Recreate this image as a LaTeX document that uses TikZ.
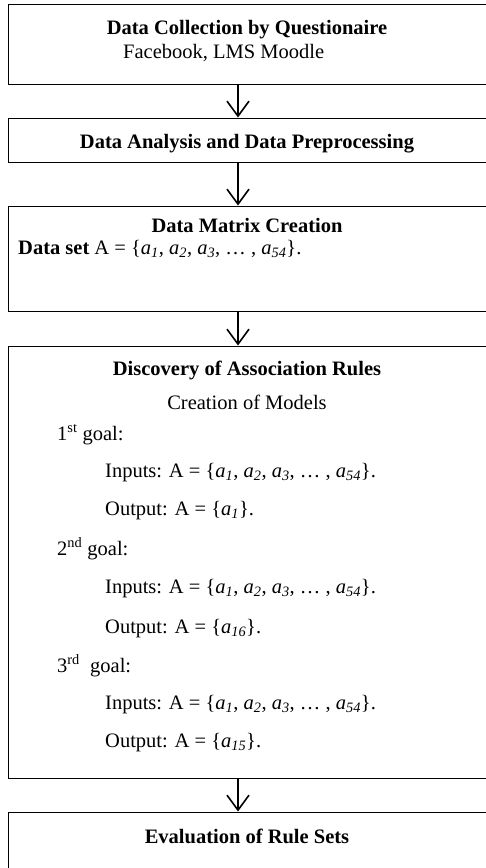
\documentclass[tikz,border=0pt]{standalone}
\usepackage{fontspec}
\setmainfont{Liberation Serif}
\usetikzlibrary{arrows.meta}
\newcommand\ai[1]{\textit{a\textsubscript{#1}}}
\newcommand\allset{A = \{\ai{1}, \ai{2}, \ai{3}, \ldots{} , \ai{54}\}.}
\tikzset{
  box/.style={draw=black, line width=1pt, minimum width=479pt, inner sep=0pt},
  arr/.style={line width=1.6pt, -{Straight Barb[length=15pt,width=22pt,line width=1.6pt]}},
  txt/.style={anchor=base, inner sep=0pt, font=\fontsize{20.5}{24}\selectfont},
  ltxt/.style={anchor=base west, inner sep=0pt, font=\fontsize{20.5}{24}\selectfont},
}
\begin{document}
\begin{tikzpicture}[x=1pt,y=-1pt]
\useasboundingbox (0,0) rectangle (485,868);
\coordinate (ax) at (238,0);
% boxes
\node[box, minimum height=80pt]  (b1) at (247.5,44) {};
\node[box, minimum height=44pt]  (b2) at (247.5,140) {};
\node[box, minimum height=105pt] (b3) at (247.5,258.5) {};
\node[box, minimum height=432pt] (b4) at (247.5,562) {};
\node[box, minimum height=100pt] (b5) at (247.5,862) {};
% texts
\node[txt]  (t1)  at (247,34) {\textbf{Data Collection by Questionaire}};
\node[ltxt] (t1b) at (123,58) {Facebook, LMS Moodle};
\node[txt]  (t2)  at (247,148) {\textbf{Data Analysis and Data Preprocessing}};
\node[txt]  (t3)  at (247,232) {\textbf{Data Matrix Creation}};
\node[ltxt] (t3b) at (18,254) {\textbf{Data set} \allset};
\node[txt]  (t4)  at (247,375) {\textbf{Discovery of Association Rules}};
\node[txt]  (t4b) at (247,409) {Creation of Models};
\node[ltxt] (g1)  at (57,440) {1\textsuperscript{st} goal:};
\node[ltxt] (g1i) at (105,477) {Inputs: \allset};
\node[ltxt] (g1o) at (105,515) {Output: A = \{\ai{1}\}.};
\node[ltxt] (g2)  at (57,555) {2\textsuperscript{nd} goal:};
\node[ltxt] (g2i) at (105,593) {Inputs: \allset};
\node[ltxt] (g2o) at (105,633) {Output: A = \{\ai{16}\}.};
\node[ltxt] (g3)  at (57,672) {3\textsuperscript{rd}\ \ goal:};
\node[ltxt] (g3i) at (105,709) {Inputs: \allset};
\node[ltxt] (g3o) at (105,747) {Output: A = \{\ai{15}\}.};
\node[txt]  (t5)  at (247,843) {\textbf{Evaluation of Rule Sets}};
% arrows
\draw[arr] (b1.south -| ax) -- (b2.north -| ax);
\draw[arr] (b2.south -| ax) -- (b3.north -| ax);
\draw[arr] (b3.south -| ax) -- (b4.north -| ax);
\draw[arr] (b4.south -| ax) -- (b5.north -| ax);
\end{tikzpicture}
\end{document}
